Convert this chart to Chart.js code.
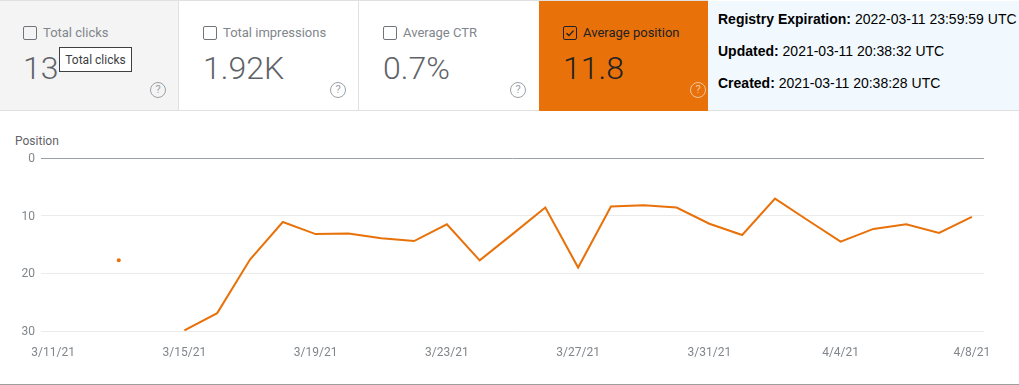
<!DOCTYPE html>
<html>
<head>
<meta charset="utf-8">
<title>Average position</title>
<script src="https://cdn.jsdelivr.net/npm/chart.js@4"></script>
<style>
  html, body { margin: 0; padding: 0; background: #fff; }
  body { position: relative; width: 1019px; height: 385px; overflow: hidden; font-family: Roboto, sans-serif; }
  .card { position: absolute; top: 1px; height: 109px; box-sizing: border-box; color: #80868b; }
  .card .box { position: absolute; left: 24px; top: 25px; width: 14px; height: 14px; box-sizing: border-box; border: 1.5px solid #70757a; border-radius: 2px; }
  .card .name { position: absolute; left: 44px; top: 24px; font-size: 13px; line-height: 16px; white-space: nowrap; }
  .card .num { position: absolute; left: 24px; top: 46px; font-size: 32px; line-height: 42px; font-weight: 300; color: #5f6368; white-space: nowrap; }
  .card .help { position: absolute; left: 151px; top: 81px; width: 16px; height: 16px; box-sizing: border-box; border: 1.5px solid #9aa0a6; border-radius: 50%; font-size: 11px; line-height: 13px; text-align: center; color: #9aa0a6; }
  .line-h { position: absolute; left: 0; height: 1px; background: #e0e0e0; }
  .line-v { position: absolute; top: 1px; width: 1px; height: 109px; background: #e0e0e0; }
  #c1 { left: 0; width: 178px; background: #f4f4f4; }
  #c1 .box { left: 23px; }
  #c1 .name { left: 43px; }
  #c1 .num { left: 23px; }
  #c1 .help { left: 150px; }
  #c2 { left: 179px; width: 179px; }
  #c3 { left: 359px; width: 179px; }
  #c4 { left: 539px; width: 169px; height: 110px; background: #e8710a; color: #202124; }
  #c4 .num { color: #202124; }
  #c4 .box { border-color: #202124; }
  #c4 .help { border-color: #f6c69c; color: #f6c69c; }
  #c4 svg { position: absolute; left: 1px; top: 1px; }
  #tip { position: absolute; left: 59px; top: 47px; width: 73px; height: 25px; box-sizing: border-box; background: #fff; border: 1px solid #3c4043; color: #3c4043; font-size: 12px; line-height: 25px; text-align: center; white-space: nowrap; }
  #info { position: absolute; left: 708px; top: 1px; width: 311px; height: 109px; background: #f1f9fe; font-family: "Liberation Sans", Arial, sans-serif; font-size: 14px; color: #000; }
  #info div { position: absolute; left: 10px; line-height: 16px; white-space: nowrap; }
  #axisName { position: absolute; left: 15px; top: 134px; font-size: 12px; line-height: 15px; color: #5f6368; }
  #wrap { position: absolute; left: 0; top: 111px; width: 1019px; height: 273px; }
  #bottom { position: absolute; left: 0; top: 384px; width: 1019px; height: 1px; background: #9e9e9e; }
</style>
</head>
<body>
<div class="line-h" style="top:0;width:708px"></div>
<div class="line-h" style="top:110px;width:1019px"></div>
<div class="line-v" style="left:178px"></div>
<div class="line-v" style="left:358px"></div>

<div class="card" id="c1"><span class="box"></span><span class="name">Total clicks</span><span class="num">13</span><span class="help">?</span></div>
<div class="card" id="c2"><span class="box"></span><span class="name">Total impressions</span><span class="num">1.92K</span><span class="help">?</span></div>
<div class="card" id="c3"><span class="box"></span><span class="name">Average CTR</span><span class="num">0.7%</span><span class="help">?</span></div>
<div class="card" id="c4"><span class="box"><svg width="10" height="10" viewBox="0 0 10 10"><path d="M1.5 5.2 L4 7.6 L8.5 2.6" fill="none" stroke="#202124" stroke-width="1.4"/></svg></span><span class="name">Average position</span><span class="num">11.8</span><span class="help">?</span></div>
<div id="tip">Total clicks</div>

<div id="info">
  <div style="top:10px"><b>Registry Expiration:</b> 2022-03-11 23:59:59 UTC</div>
  <div style="top:42px"><b>Updated:</b> 2021-03-11 20:38:32 UTC</div>
  <div style="top:74px"><b>Created:</b> 2021-03-11 20:38:28 UTC</div>
</div>

<div id="axisName">Position</div>
<div id="wrap"><canvas id="chartPos"></canvas></div>
<div id="bottom"></div>

<script>
const days = ['3/11/21','3/12/21','3/13/21','3/14/21','3/15/21','3/16/21','3/17/21','3/18/21','3/19/21','3/20/21',
  '3/21/21','3/22/21','3/23/21','3/24/21','3/25/21','3/26/21','3/27/21','3/28/21','3/29/21','3/30/21',
  '3/31/21','4/1/21','4/2/21','4/3/21','4/4/21','4/5/21','4/6/21','4/7/21','4/8/21'];
const position = [null,null,17.75,null,29.9,26.9,17.6,11.1,13.2,13.1,
  13.9,14.4,11.5,17.75,13.2,8.6,19,8.4,8.2,8.6,
  11.4,13.35,7.05,10.8,14.5,12.3,11.5,13,10.2];
const xTicks = ['3/11/21','3/15/21','3/19/21','3/23/21','3/27/21','3/31/21','4/4/21','4/8/21'];
const yTicks = [0,10,20,30];

const orange = '#e8710a';
const tickFont = {family: 'Roboto', size: 12};

new Chart(document.getElementById('chartPos'), {
  type: 'line',
  data: {
    datasets: [{
      data: position.map((v, i) => ({x: i, y: v})),
      borderColor: orange,
      backgroundColor: orange,
      borderWidth: 2,
      tension: 0,
      spanGaps: false,
      // only a day with no neighbours gets a dot
      pointRadius: ctx => (position[ctx.dataIndex - 1] == null && position[ctx.dataIndex + 1] == null) ? 2 : 0,
      pointBorderWidth: 0,
      pointHoverRadius: 0
    }]
  },
  options: {
    responsive: true,
    maintainAspectRatio: false,
    animation: false,
    layout: {padding: {top: 47, right: 35, left: 0, bottom: 0}},
    plugins: {legend: {display: false}, tooltip: {enabled: false}},
    scales: {
      x: {
        type: 'linear',
        min: -0.37,
        max: 28.37,
        grid: {display: false},
        border: {display: false},
        afterBuildTicks: axis => { axis.ticks = xTicks.map(t => ({value: days.indexOf(t)})); },
        afterFit: axis => { axis.height = 53; },
        ticks: {
          autoSkip: false,
          maxRotation: 0,
          padding: 7,
          color: '#80868b',
          font: tickFont,
          callback: v => days[v]
        }
      },
      y: {
        reverse: true,
        min: 0,
        max: 30,
        border: {display: false},
        grid: {
          drawTicks: false,
          color: ctx => ctx.tick.value === 0 ? '#9aa0a6' : '#ebebeb'
        },
        afterBuildTicks: axis => { axis.ticks = yTicks.map(v => ({value: v})); },
        afterFit: axis => { axis.width = 41; },
        ticks: {padding: 6, labelOffset: 1, color: '#80868b', font: tickFont}
      }
    }
  }
});
</script>
</body>
</html>
